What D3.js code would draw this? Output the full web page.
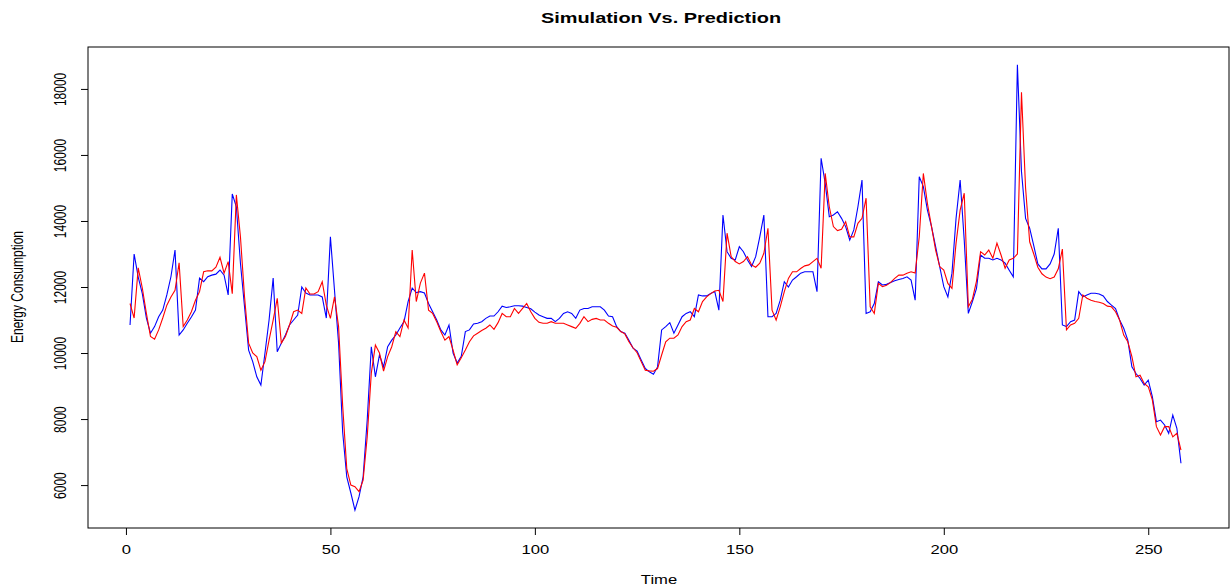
<!DOCTYPE html>
<html>
<head>
<meta charset="utf-8">
<script src="https://cdn.jsdelivr.net/npm/d3@7"></script>
<style>
  body { margin: 0; background: #fff; }
  svg { display: block; }
  text { font-family: "Liberation Sans", Arial, sans-serif; fill: #000; }
</style>
</head>
<body>
<div id="chart"></div>
<script>
// Observed series (simulation) and model output (prediction), one value per time step 1..258
const simulation = [
  10850, 13000, 12300, 11800, 11060, 10600, 10800, 11100, 11300, 11760,
  12310, 13120, 10545, 10700, 10900, 11090, 11300, 12270, 12160, 12310,
  12360, 12390, 12515, 12360, 11760, 14820, 14430, 12720, 11400, 10090,
  9740, 9280, 9030, 10000, 11000, 12270, 10040, 10300, 10545, 10850,
  11000, 11150, 12000, 11820, 11760, 11760, 11760, 11700, 11060, 13520,
  11900, 10300, 7600, 6250, 5760, 5240, 5650, 6250, 7970, 10190,
  9280, 9940, 9580, 10190, 10390, 10545, 10760, 10950, 11560, 11970,
  11830, 11860, 11820, 11500, 11250, 11000, 10700, 10545, 10850, 10000,
  9700, 9900, 10650, 10700, 10880, 10900, 10950, 11050, 11120, 11120,
  11250, 11420, 11380, 11400, 11430, 11430, 11420, 11380, 11340, 11240,
  11150, 11100, 11050, 11050, 10950, 11050, 11200, 11250, 11200, 11050,
  11300, 11350, 11350, 11400, 11400, 11400, 11300, 11120, 11100, 10800,
  10650, 10600, 10390, 10150, 10060, 9790, 9530, 9430, 9360, 9580,
  10700, 10800, 10920, 10600, 10850, 11100, 11200, 11250, 11100, 11760,
  11730, 11730, 11800, 11860, 11300, 14180, 13070, 12870, 12820, 13220,
  13070, 12820, 12620, 12920, 13520, 14180, 11100, 11100, 11200, 11600,
  12160, 12000, 12210, 12310, 12420, 12460, 12460, 12460, 11860, 15900,
  15140, 14130, 14180, 14280, 14080, 13830, 13420, 13730, 14430, 15240,
  11200, 11250, 11500, 12160, 12060, 12080, 12140, 12190, 12230, 12260,
  12310, 12210, 11600, 15340, 15040, 14330, 13830, 13220, 12620, 12010,
  11700, 12420, 14080, 15240, 13420, 11200, 11560, 11960, 12970, 12870,
  12870, 12820, 12870, 12820, 12720, 12510, 12310, 18730, 15500, 14080,
  13780, 13250, 12700, 12550, 12550, 12700, 13000, 13780, 10850, 10800,
  10950, 11000, 11860, 11700, 11760, 11810, 11810, 11790, 11730, 11560,
  11450, 11350, 11000, 10750, 10390, 9580, 9380, 9230, 9030, 9180,
  8680, 7920, 7970, 7820, 7570, 8120, 7720, 6660
];

const prediction = [
  11500, 11060, 12580, 11970, 11200, 10500, 10420, 10700, 11060, 11450,
  11700, 11900, 12730, 10800, 11000, 11250, 11600, 11860, 12460, 12490,
  12490, 12600, 12900, 12420, 12770, 11800, 14790, 13520, 11700, 10300,
  10000, 9890, 9480, 9740, 10390, 11000, 11660, 10300, 10500, 10850,
  11250, 11300, 11200, 11970, 11790, 11790, 11860, 12160, 11450, 11050,
  11700, 10800, 8400, 6500, 6000, 5950, 5800, 6150, 7460, 9390,
  10240, 10000, 9450, 9890, 10190, 10650, 10500, 11000, 10760, 13120,
  11560, 12120, 12420, 11300, 11200, 10950, 10650, 10390, 10500, 10090,
  9640, 9860, 10090, 10340, 10520, 10600, 10680, 10750, 10850, 10720,
  10920, 11200, 11100, 11100, 11350, 11200, 11350, 11500, 11250, 11050,
  10930, 10900, 10900, 10950, 10900, 10900, 10900, 10850, 10800, 10750,
  10900, 11100, 10950, 11020, 11050, 11000, 11000, 10900, 10820, 10780,
  10650, 10580, 10340, 10160, 10010, 9740, 9480, 9460, 9450, 9530,
  9940, 10340, 10450, 10450, 10550, 10800, 10950, 11000, 11350, 11250,
  11560, 11700, 11800, 11880, 11900, 11560, 13630, 12920, 12770, 12700,
  12770, 12920, 12670, 12600, 12720, 13020, 13780, 11300, 11000, 11400,
  11860, 12260, 12460, 12460, 12560, 12640, 12670, 12770, 12870, 12570,
  15440, 14430, 13830, 13710, 13750, 13980, 13520, 13520, 13930, 14080,
  14690, 11400, 11200, 12110, 12010, 12050, 12140, 12260, 12360, 12360,
  12420, 12460, 12420, 13520, 15440, 14530, 13830, 13120, 12620, 12510,
  12110, 11960, 13330, 14330, 14840, 11400, 11630, 12180, 13070, 12970,
  13120, 12870, 13330, 12970, 12570, 12820, 12870, 13000, 17900, 15000,
  13370, 13000, 12600, 12400, 12300, 12250, 12300, 12550, 13150, 10700,
  10850, 10900, 11050, 11760, 11660, 11600, 11560, 11540, 11500, 11420,
  11400, 11250, 11000, 10545, 10340, 9890, 9280, 9330, 9080, 8980,
  8580, 7770, 7520, 7770, 7770, 7460, 7570, 7060
];

const xTicks = [0, 50, 100, 150, 200, 250];
const yTicks = [6000, 8000, 10000, 12000, 14000, 16000, 18000];

const chartTitle = "Simulation Vs. Prediction";
const xLabel = "Time";
const yLabel = "Energy Consumption";

// the picture is stretched sideways, so horizontal text gets widened
const stretch = 1.33;

const W = 1232, H = 588;
const box = { left: 88, right: 1223, top: 47, bottom: 528 };

const svg = d3.select("#chart")
    .append("svg")
    .attr("width", W)
    .attr("height", H);

// R-style 4% padding around the data range
const x = d3.scaleLinear()
    .domain([-9.28, 268.28])
    .range([box.left, box.right]);

const y = d3.scaleLinear()
    .domain([4700, 19270])
    .range([box.bottom, box.top]);

const line = d3.line()
    .x((d, i) => x(i + 1))
    .y(d => y(d));

// simulation first, prediction drawn on top
svg.append("path")
    .datum(simulation)
    .attr("fill", "none")
    .attr("stroke", "#0000ff")
    .attr("stroke-width", 1.1)
    .attr("d", line);

svg.append("path")
    .datum(prediction)
    .attr("fill", "none")
    .attr("stroke", "#ff0000")
    .attr("stroke-width", 1.1)
    .attr("d", line);

// plot frame
svg.append("rect")
    .attr("x", box.left)
    .attr("y", box.top)
    .attr("width", 1229 - box.left)
    .attr("height", box.bottom - box.top)
    .attr("fill", "none")
    .attr("stroke", "#000")
    .attr("stroke-width", 1);

// X axis
const xAxis = svg.append("g")
    .attr("transform", "translate(0," + box.bottom + ")")
    .call(d3.axisBottom(x).tickValues(xTicks).tickSize(7).tickPadding(10));
xAxis.select(".domain").remove();
xAxis.selectAll("text")
    .style("font-size", "12.5px")
    .attr("transform", "scale(" + stretch + ",1)");

// Y axis, labels turned like R's las=0
const yAxis = svg.append("g")
    .attr("transform", "translate(" + box.left + ",0)")
    .call(d3.axisLeft(y).tickValues(yTicks).tickSize(7).tickFormat(d3.format("d")));
yAxis.select(".domain").remove();
yAxis.selectAll("text")
    .style("font-size", "12px")
    .style("text-anchor", "middle")
    .attr("x", 0)
    .attr("y", -16.5)
    .attr("dy", 0)
    .attr("transform", "scale(" + stretch + ",1) rotate(-90)");

// title and axis names
svg.append("text")
    .attr("transform", "translate(661,23) scale(" + stretch + ",1)")
    .attr("text-anchor", "middle")
    .style("font-size", "15px")
    .style("font-weight", "bold")
    .text(chartTitle);

svg.append("text")
    .attr("transform", "translate(659,584) scale(" + stretch + ",1)")
    .attr("text-anchor", "middle")
    .style("font-size", "12.5px")
    .text(xLabel);

svg.append("text")
    .attr("transform", "translate(23,287) scale(" + stretch + ",1) rotate(-90)")
    .attr("text-anchor", "middle")
    .style("font-size", "12px")
    .text(yLabel);
</script>
</body>
</html>
